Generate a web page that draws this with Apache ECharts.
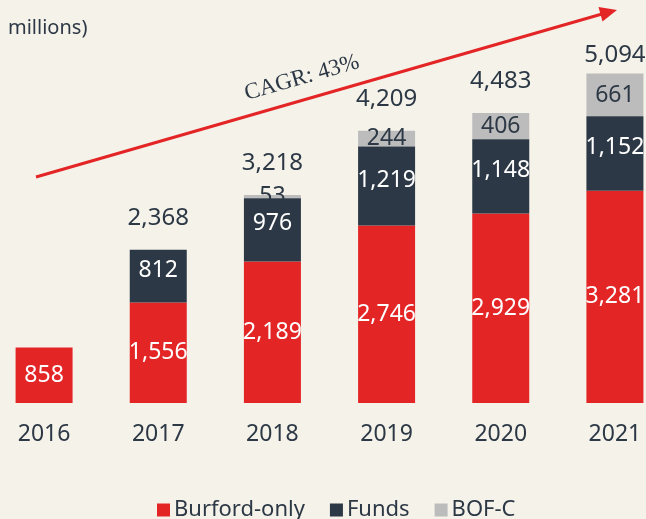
<!DOCTYPE html>
<html lang="en">
<head>
    <meta charset="UTF-8">
    <title>Capital provision by year</title>
    <script type="text/javascript" src="https://cdn.jsdelivr.net/npm/echarts@6/dist/echarts.min.js"></script>
    <style>
        html, body { margin: 0; padding: 0; background: #f5f2e9; overflow: hidden; }
        /* chart is wider than the window: first and last bars sit close to the edges */
        #main { position: absolute; left: -13px; top: 0; width: 685px; height: 519px; }
    </style>
</head>
<body>
    <div id="main"></div>
<script type="text/javascript">
    // data ($ millions)
    var years = ['2016', '2017', '2018', '2019', '2020', '2021'];
    var burfordOnly = [858, 1556, 2189, 2746, 2929, 3281];
    var funds = [null, 812, 976, 1219, 1148, 1152];
    var bofc = [null, null, 53, 244, 406, 661];
    var totals = [null, 2368, 3218, 4209, 4483, 5094];

    var RED = '#e32526', DARK = '#2c3845', GREY = '#bcbcbc';
    var FONT = '"Noto Sans", sans-serif';
    var X0 = 13; // shift of graphic coords because the div starts at -13px

    function fmt(p) {
        var v = Array.isArray(p.value) ? p.value[1] : p.value;
        return v == null ? '' : Number(v).toLocaleString('en-US');
    }

    var myChart = echarts.init(document.getElementById('main'));
    var option = {
        backgroundColor: '#f5f2e9',
        animation: false,
        textStyle: { fontFamily: FONT },
        grid: { left: 0, right: 0, top: 15, bottom: 116 },
        legend: {
            left: 152 + X0, top: 494,
            itemWidth: 13, itemHeight: 13, itemGap: 25,
            icon: 'rect',
            textStyle: { fontSize: 22, color: DARK, fontFamily: FONT, padding: [0, 0, 0, -1] },
            data: ['Burford-only', 'Funds', 'BOF-C']
        },
        xAxis: {
            type: 'category',
            data: years,
            axisLine: { show: false },
            axisTick: { show: false },
            axisLabel: { fontSize: 23, color: DARK, margin: 20, fontFamily: FONT }
        },
        yAxis: { type: 'value', min: 0, max: 6000, show: false, splitLine: { show: false } },
        series: [
            {
                name: 'Burford-only', type: 'bar', stack: 'a', barWidth: 57, z: 3,
                itemStyle: { color: RED },
                label: { show: true, position: 'inside', color: '#fff', fontSize: 23, formatter: fmt },
                data: burfordOnly
            },
            {
                name: 'Funds', type: 'bar', stack: 'a', barWidth: 57, z: 3,
                itemStyle: { color: DARK },
                label: { show: true, position: 'inside', color: '#fff', fontSize: 23, offset: [0, -6], formatter: fmt },
                data: funds
            },
            {
                name: 'BOF-C', type: 'bar', stack: 'a', barWidth: 57, z: 1,
                itemStyle: { color: GREY },
                label: { show: true, position: 'inside', color: DARK, fontSize: 23, formatter: fmt },
                data: bofc
            },
            {
                name: 'Total', type: 'scatter', symbolSize: 1, z: 4,
                itemStyle: { color: 'rgba(0,0,0,0)', opacity: 1 },
                label: { show: true, position: 'top', distance: 19, color: DARK, fontSize: 24, formatter: fmt },
                data: totals.map(function (v, i) {
                    // last label sits closer to its bar (arrow above it)
                    return i === totals.length - 1 ? { value: v, label: { distance: 6 } } : v;
                })
            }
        ],
        graphic: [
            {
                type: 'text', left: 8 + X0, top: 18,
                style: { text: 'millions)', fontSize: 20, fill: DARK, fontFamily: FONT }
            },
            {
                type: 'line',
                shape: { x1: 36 + X0, y1: 177, x2: 602 + X0, y2: 14 },
                style: { stroke: RED, lineWidth: 3 }
            },
            {
                type: 'polygon',
                shape: { points: [[617 + X0, 10], [602.5 + X0, 21.5], [598.5 + X0, 7]] },
                style: { fill: RED }
            },
            {
                type: 'text', x: 302 + X0, y: 78, rotation: 16 * Math.PI / 180,
                style: {
                    text: 'CAGR: 43%', fontSize: 23, fill: DARK,
                    fontFamily: '"Liberation Serif", "DejaVu Serif", serif',
                    align: 'center', verticalAlign: 'middle'
                }
            }
        ]
    };
    myChart.setOption(option);
</script>
</body>
</html>
